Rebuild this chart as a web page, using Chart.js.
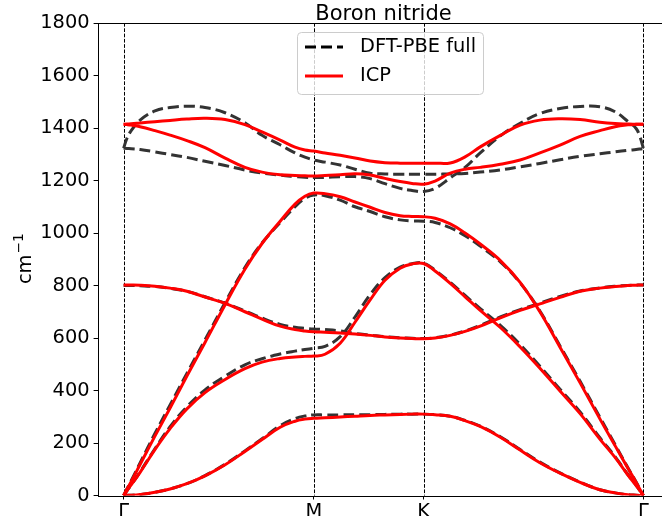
<!DOCTYPE html>
<html>
<head>
<meta charset="utf-8">
<script src="https://cdn.jsdelivr.net/npm/chart.js@4.4.0/dist/chart.umd.min.js"></script>
<style>
  html, body { margin: 0; padding: 0; overflow: hidden; background: #fff; }
  canvas { display: block; }
</style>
</head>
<body>
<canvas id="bands" width="680" height="516"></canvas>
<script>
// distance along the path Γ-M-K-Γ
const pathQ = [0, 0.010, 0.023, 0.050, 0.095, 0.141, 0.192, 0.247, 0.308, 0.368, 0.420, 0.475, 0.520, 0.550, 0.577,
  0.611, 0.657, 0.702, 0.748, 0.793, 0.839, 0.875, 0.910,
  0.945, 0.991, 1.036, 1.082, 1.143, 1.203, 1.263, 1.324, 1.385, 1.445, 1.491, 1.530, 1.555, 1.567, 1.577];

const pointNames = ["Γ", "M", "K", "Γ"];
const pointQ = [0, 0.577, 0.910, 1.577];
const yTickValues = [0, 200, 400, 600, 800, 1000, 1200, 1400, 1600, 1800];

// ICP bands (cm-1)
const zaICP = [0, 0.5, 1, 4, 12, 25, 45, 75, 117, 168, 213, 260, 283, 291, 294, 296, 299, 302, 305, 307, 309, 310, 310, 308, 302, 285, 263, 222, 173, 125, 85, 50, 22, 10, 3, 1, 0.3, 0];
const taICP = [0, 18, 40, 88, 175, 255, 330, 392, 442, 483, 508, 522, 528, 530, 531, 538, 580, 660, 745, 820, 866, 882, 884, 855, 808, 757, 705, 640, 566, 485, 398, 312, 215, 145, 78, 38, 18, 0];
const laICP = [0, 24, 53, 118, 226, 333, 455, 583, 727, 862, 960, 1045, 1110, 1140, 1152, 1150, 1138, 1118, 1098, 1078, 1066, 1063, 1062, 1056, 1035, 1000, 958, 895, 812, 700, 565, 429, 292, 190, 104, 50, 22, 0];
const toICP = [802, 802, 802, 801, 797, 790, 778, 756, 732, 700, 672, 645, 632, 627, 624, 622, 619, 615, 610, 604, 600, 598, 597, 600, 610, 625, 645, 677, 705, 730, 755, 778, 790, 796, 800, 801, 802, 802];
const midICP = [1414, 1413, 1411, 1405, 1390, 1373, 1352, 1325, 1285, 1250, 1232, 1222, 1219, 1218, 1217, 1219, 1222, 1226, 1221, 1208, 1196, 1189, 1186, 1198, 1228, 1243, 1250, 1262, 1278, 1305, 1335, 1368, 1390, 1405, 1412, 1414, 1414, 1414];
const hiICP = [1414, 1415, 1416, 1419, 1424, 1429, 1434, 1437, 1432, 1413, 1385, 1354, 1327, 1316, 1312, 1305, 1296, 1286, 1274, 1268, 1266, 1266, 1266, 1266, 1267, 1290, 1328, 1372, 1411, 1430, 1435, 1432, 1422, 1417, 1415, 1414, 1414, 1414];

// DFT-PBE full bands (cm-1)
const zaDFT = [0, 0.5, 1, 4, 12, 25, 45, 76, 119, 170, 216, 266, 293, 303, 307, 307, 307, 308, 308, 309, 310, 310, 310, 308, 302, 286, 264, 224, 175, 127, 86, 51, 22, 10, 3, 1, 0.3, 0];
const taDFT = [0, 18, 40, 90, 178, 262, 338, 402, 455, 498, 521, 539, 550, 556, 561, 568, 605, 680, 765, 830, 870, 883, 885, 858, 812, 762, 712, 648, 575, 492, 405, 318, 220, 148, 80, 39, 18, 0];
const laDFT = [0, 25, 56, 124, 236, 345, 465, 593, 735, 868, 962, 1040, 1100, 1132, 1145, 1142, 1125, 1100, 1082, 1062, 1050, 1046, 1045, 1040, 1020, 990, 950, 890, 810, 703, 570, 435, 298, 194, 106, 51, 23, 0];
const toDFT = [800, 800, 800, 799, 796, 789, 778, 757, 733, 703, 676, 652, 641, 637, 634, 632, 627, 617, 611, 605, 601, 599, 598, 601, 611, 627, 648, 680, 708, 733, 758, 779, 791, 797, 800, 801, 802, 802];
const optaDFT = [1323, 1360, 1390, 1430, 1465, 1478, 1483, 1478, 1458, 1420, 1372, 1336, 1305, 1289, 1278, 1270, 1259, 1243, 1228, 1225, 1224, 1224, 1224, 1224, 1225, 1227, 1232, 1240, 1252, 1265, 1279, 1292, 1302, 1309, 1315, 1318, 1320, 1322];
const optbDFT = [1323, 1322, 1321, 1318, 1309, 1299, 1288, 1273, 1257, 1240, 1228, 1220, 1215, 1212, 1211, 1212, 1214, 1215, 1207, 1188, 1170, 1162, 1158, 1170, 1210, 1250, 1305, 1370, 1418, 1455, 1474, 1482, 1481, 1462, 1425, 1398, 1365, 1322];

const icpBands = [zaICP, taICP, laICP, toICP, midICP, hiICP];
const dftBands = [zaDFT, taDFT, laDFT, toDFT, optaDFT, optbDFT];

const FONT = "'DejaVu Sans', sans-serif";
const dashStyle = [11, 5];

function band(vals, icp) {
  return {
    data: vals.map((v, i) => ({ x: pathQ[i], y: v })),
    borderColor: icp ? "#ff0000" : "#333333",
    borderWidth: 3,
    borderDash: icp ? [] : dashStyle,
    pointRadius: 0,
    fill: false,
    tension: 0.4,
    order: icp ? 0 : 1,
  };
}

const datasets = icpBands.map(b => band(b, true)).concat(dftBands.map(b => band(b, false)));

// dashed lines at high symmetry points, frame, title, legend, y label
const decor = {
  id: "decor",
  beforeDatasetsDraw(chart) {
    const ctx = chart.ctx, a = chart.chartArea, xs = chart.scales.x;
    ctx.save();
    ctx.strokeStyle = "#000";
    ctx.lineWidth = 1;
    ctx.setLineDash([3.7, 1.6]);
    pointQ.forEach(q => {
      const px = Math.round(xs.getPixelForValue(q)) + 0.5;
      ctx.beginPath();
      ctx.moveTo(px, a.top);
      ctx.lineTo(px, a.bottom);
      ctx.stroke();
    });
    ctx.restore();
  },
  afterDatasetsDraw(chart) {
    const ctx = chart.ctx, a = chart.chartArea;
    ctx.save();
    ctx.strokeStyle = "#000";
    ctx.lineWidth = 1;
    ctx.strokeRect(Math.round(a.left) + 0.5, Math.round(a.top) + 0.5, a.right - a.left, Math.round(a.bottom) - Math.round(a.top));
    ctx.restore();
  },
  afterDraw(chart) {
    const ctx = chart.ctx, a = chart.chartArea;
    ctx.save();
    // title
    ctx.fillStyle = "#000";
    ctx.font = "21px " + FONT;
    ctx.textAlign = "center";
    ctx.textBaseline = "alphabetic";
    ctx.fillText("Boron nitride", (a.left + a.right) / 2, 19.5);

    // y axis label cm^-1
    ctx.save();
    ctx.translate(31, (a.top + a.bottom) / 2);
    ctx.rotate(-Math.PI / 2);
    ctx.textAlign = "left";
    ctx.font = "19.4px " + FONT;
    const w1 = ctx.measureText("cm").width;
    ctx.font = "13.6px " + FONT;
    const w2 = ctx.measureText("−1").width;
    const start = -(w1 + w2) / 2;
    ctx.font = "19.4px " + FONT;
    ctx.fillText("cm", start, 0);
    ctx.font = "13.6px " + FONT;
    ctx.fillText("−1", start + w1 + 1, -8);
    ctx.restore();

    // legend box
    const bx = 297.5, by = 32.5, bw = 186, bh = 62, r = 4;
    ctx.beginPath();
    ctx.moveTo(bx + r, by);
    ctx.arcTo(bx + bw, by, bx + bw, by + bh, r);
    ctx.arcTo(bx + bw, by + bh, bx, by + bh, r);
    ctx.arcTo(bx, by + bh, bx, by, r);
    ctx.arcTo(bx, by, bx + bw, by, r);
    ctx.closePath();
    ctx.fillStyle = "rgba(255,255,255,0.8)";
    ctx.fill();
    ctx.strokeStyle = "#cccccc";
    ctx.lineWidth = 1;
    ctx.stroke();
    // handles
    ctx.lineWidth = 3;
    ctx.strokeStyle = "#000";
    ctx.setLineDash(dashStyle);
    ctx.beginPath();
    ctx.moveTo(305, 47);
    ctx.lineTo(343, 47);
    ctx.stroke();
    ctx.setLineDash([]);
    ctx.strokeStyle = "#ff0000";
    ctx.beginPath();
    ctx.moveTo(305, 76);
    ctx.lineTo(343, 76);
    ctx.stroke();
    ctx.fillStyle = "#000";
    ctx.font = "19.4px " + FONT;
    ctx.textAlign = "left";
    ctx.textBaseline = "middle";
    ctx.fillText("DFT-PBE full", 360, 47);
    ctx.fillText("ICP", 360, 76);
    ctx.restore();
  }
};

const tickFont = { family: FONT, size: 19.4 };

new Chart(document.getElementById("bands"), {
  type: "line",
  data: { datasets: datasets },
  options: {
    responsive: false,
    animation: false,
    parsing: false,
    layout: { padding: { top: 23, right: 10.6, left: 0, bottom: 0 } },
    plugins: { legend: { display: false }, tooltip: { enabled: false } },
    scales: {
      x: {
        type: "linear",
        min: -0.0789,
        max: 1.6559,
        afterBuildTicks: s => { s.ticks = pointQ.map(v => ({ value: v })); },
        afterFit: s => { s.height = 20.5; },
        grid: { drawOnChartArea: false, drawTicks: true, tickLength: 4, color: "#000" },
        border: { display: false },
        ticks: {
          font: tickFont, color: "#000", padding: 1, maxRotation: 0, autoSkip: false,
          callback: (v, i) => pointNames[i],
        },
      },
      y: {
        min: 0,
        max: 1800,
        afterBuildTicks: s => { s.ticks = yTickValues.map(v => ({ value: v })); },
        afterFit: s => { s.width = 97.6; },
        grid: { drawOnChartArea: false, drawTicks: true, tickLength: 4, color: "#000" },
        border: { display: false },
        ticks: { font: tickFont, color: "#000", padding: 4, callback: v => String(v) },
      },
    },
  },
  plugins: [decor],
});
</script>
</body>
</html>
